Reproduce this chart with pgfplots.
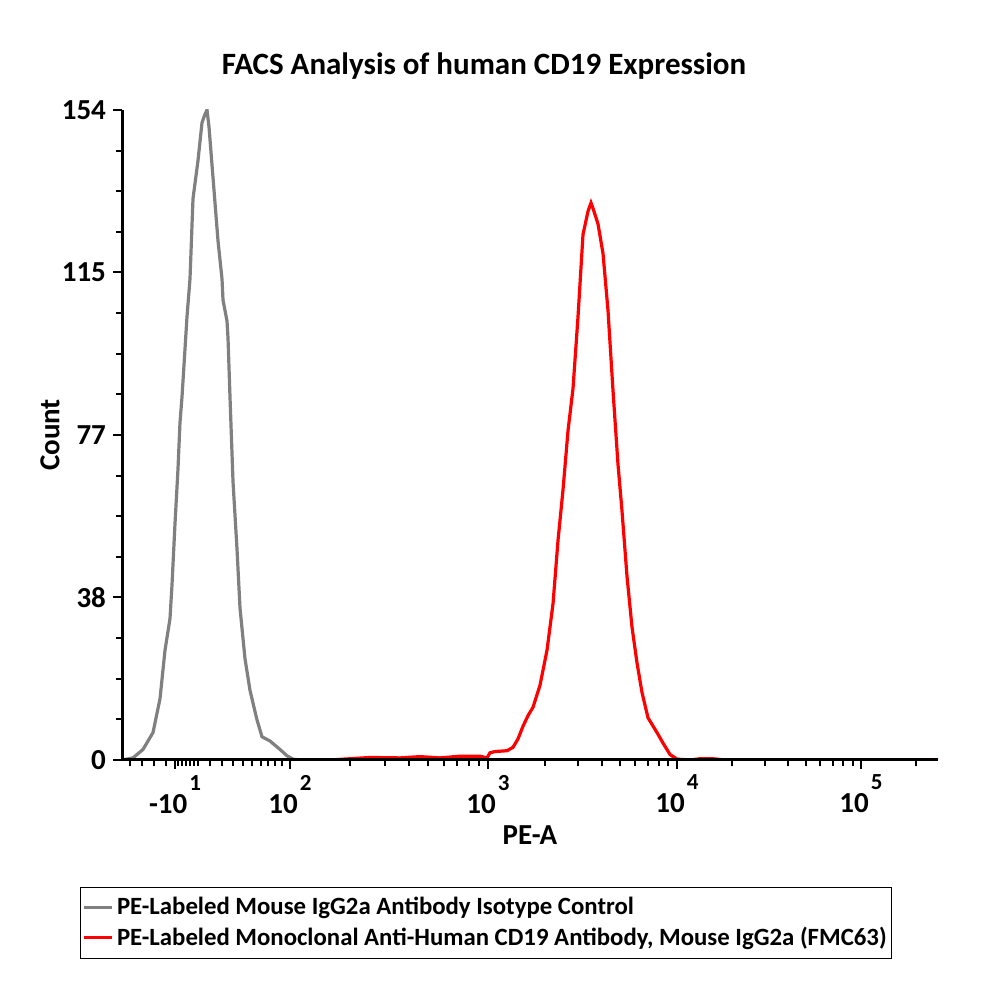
\documentclass[border=0pt]{standalone}
\usepackage{fontspec}
\setmainfont{Carlito}
\usepackage{pgfplots}
\pgfplotsset{compat=1.18}
\newcommand{\dec}[2]{\textbf{#1}\hspace{1pt}\raisebox{11.5pt}{\fontsize{11.5}{12}\selectfont\textbf{#2}}}
\begin{document}
\begin{tikzpicture}
\useasboundingbox (0,0) rectangle (500pt,500pt);
\begin{axis}[
  at={(61pt,120pt)}, anchor=south west,
  width=408pt, height=325pt, scale only axis,
  xmin=122, xmax=938, ymin=0, ymax=154,
  axis lines=left, axis line style={line width=1.5pt,-},
  axis on top,
  tick align=outside,
  major tick length=4.5pt, minor tick length=3pt,
  tick style={black, line width=1pt},
  ytick={0,38.5,77,115.5,154},
  yticklabels={0,38,77,115,154},
  minor y tick num=3,
  xtick={175,290,488,677,861},
  xticklabels={\dec{-10}{1},\dec{10}{2},\dec{10}{3},\dec{10}{4},\dec{10}{5}},
  minor xtick={130,142,154,166,178,182,186,190,194,198,210,222,233,243,252,261,268,275,282,
    349.6,384.5,409.2,428.4,444,457.3,468.8,478.9,
    544.9,578.2,601.8,620.1,635,647.7,658.7,668.3,
    732.4,764.8,787.8,805.6,820.2,832.5,843.2,852.6,916.4},
  ticklabel style={font=\bfseries\fontsize{14.5}{16}\selectfont},
  xticklabel style={yshift=0.5pt},
  title={FACS Analysis of human CD19 Expression},
  title style={font=\bfseries\fontsize{15.5}{18}\selectfont, at={(axis description cs:0.4436,1.049)}, anchor=center},
  xlabel={PE-A},
  xlabel style={font=\bfseries\fontsize{14.5}{16}\selectfont, at={(axis description cs:0.5,-0.1154)}, anchor=center},
  ylabel={Count},
  ylabel style={font=\bfseries\fontsize{14.5}{16}\selectfont, at={(axis description cs:-0.0882,0.5)}, anchor=center},
  legend style={at={(axis description cs:-0.0515,-0.1954)}, anchor=north west, draw=black,
    font=\bfseries\fontsize{12.4}{14}\selectfont, cells={anchor=west}, inner xsep=1pt, inner ysep=3pt, row sep=0.5pt,
    nodes={inner xsep=1.5pt}},
  legend image code/.code={\draw[#1] (0cm,0cm) -- (0.5cm,0cm);},
]
\addplot[color=gray, line width=1.6pt] coordinates {
(122,0) (133,0.5) (143,2.5) (153,6.5) (160,14.5) (165,26) (170,33.5) (172,41.5) (175,56) (178,69)
(180,80) (182,86) (187,105) (190,114) (193,133) (198,142) (202,151) (205,153) (207,154) (209,150)
(213,138) (218,123) (222,114) (223,109) (227,104) (228,100) (230,86) (233,66) (237,50) (240,36)
(245,24) (250,16.5) (257,9.5) (262,5.5) (270,4.5) (280,2.5) (287,1) (293,0.2) (300,0) (310,0)
};
\addlegendentry{PE-Labeled Mouse IgG2a Antibody Isotype Control}
\addplot[color=red, line width=1.6pt] coordinates {
(330,0) (350,0.3) (370,0.6) (400,0.5) (420,0.8) (440,0.5) (460,0.9) (480,0.9) (487,0.5) (490,1.7)
(495,2) (507,2.2) (513,3) (518,5) (523,8) (528,10.5) (533,12.5) (540,17.7) (547,26) (553,37)
(558,52) (563,64) (568,78) (573,88) (578,105) (583,124.5) (588,130) (591,132) (593,130.7) (598,127)
(603,120) (608,106.5) (613,87.5) (618,70) (622,59) (627,43.5) (632,31.5) (637,23) (642,16) (648,10)
(657,6.5) (663,4) (670,1.3) (677,0.2) (690,0) (700,0.3) (713,0.3) (725,0) (938,0)
};
\addlegendentry{PE-Labeled Monoclonal Anti-Human CD19 Antibody, Mouse IgG2a (FMC63)}
\end{axis}
\end{tikzpicture}
\end{document}
